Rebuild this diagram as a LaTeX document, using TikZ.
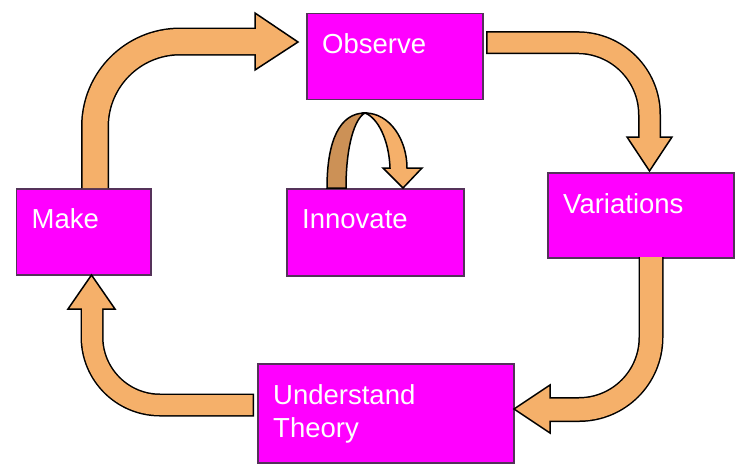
\documentclass[tikz,border=0pt]{standalone}
\usepackage{fontspec}
\setmainfont{Liberation Sans}
\usetikzlibrary{calc}
\definecolor{boxfill}{RGB}{255,0,255}
\definecolor{boxline}{RGB}{85,50,90}
\definecolor{arrowfill}{RGB}{245,176,106}
\definecolor{arrowdark}{RGB}{204,145,86}

\begin{document}
\begin{tikzpicture}[x=1pt, y=-1pt,
    stepbox/.style = {draw = boxline, line width = 1.8pt, fill = boxfill,
                      inner sep = 0pt, anchor = north west},
    steplabel/.style = {text = white, anchor = base west, inner sep = 0pt,
                        align = left, font = \fontsize{27.5}{33}\selectfont},
    shaftline/.style = {draw = black, line width = #1+3pt, rounded corners = 80pt},
    shaftfill/.style = {draw = arrowfill, line width = #1, rounded corners = 80pt},
    arrowhead/.style = {fill = arrowfill, draw = black, line width = 1.5pt, line join = miter},
    loopband/.style = {draw = black, line width = 1.5pt, fill = #1}]
          \useasboundingbox (0,0) rectangle (750,467);

          \node[stepbox, minimum width = 176pt, minimum height = 86pt] (observe) at (306,12.5) {};
          \node[stepbox, minimum width = 186pt, minimum height = 85pt] (variations) at (547,172) {};
          \node[stepbox, minimum width = 177pt, minimum height = 87pt] (innovate) at (286,188) {};
          \node[stepbox, minimum width = 134.5pt, minimum height = 86pt] (make) at (15.5,188) {};
          \node[stepbox, minimum width = 256pt, minimum height = 99pt] (theory) at (257,363) {};

          \node[steplabel] (observe-t) at ($(observe.north west)+(16,40.5)$) {Observe};
          \node[steplabel] (variations-t) at ($(variations.north west)+(16,41)$) {Variations};
          \node[steplabel] (innovate-t) at ($(innovate.north west)+(16,40.5)$) {Innovate};
          \node[steplabel] (make-t) at ($(make.north west)+(16,40.5)$) {Make};
          \node[steplabel] (theory-t) at ($(theory.north west)+(16,74)$) {Understand\\Theory};

          \coordinate (make-out) at (95,188);
          \coordinate (observe-in) at (255,41.5);
          \coordinate (observe-out) at (486,42.7);
          \coordinate (variations-in) at (649.5,137);
          \coordinate (variations-out) at (651,257);
          \coordinate (theory-in) at (550,409.5);
          \coordinate (theory-out) at (254,405);
          \coordinate (make-in) at (92,309);

          \draw[shaftline = 25pt, rounded corners = 85pt] (make-out) |- (observe-in);
          \filldraw[arrowhead] (255,13) -- (298,42) -- (255,70) -- cycle;
          \draw[shaftfill = 25pt, rounded corners = 85pt] (make-out) |- ($(observe-in)+(3,0)$);

          \draw[shaftline = 20pt, rounded corners = 72pt] (observe-out) -| (variations-in);
          \filldraw[arrowhead] (627,137) -- (649.5,171) -- (672,137) -- cycle;
          \draw[shaftfill = 20pt, rounded corners = 72pt] ($(observe-out)+(1.5,0)$) -| ($(variations-in)+(0,3)$);

          \draw[shaftline = 22pt, rounded corners = 72pt] (variations-out) |- (theory-in);
          \filldraw[arrowhead] (550,385) -- (514,409) -- (550,433) -- cycle;
          \draw[shaftfill = 22pt, rounded corners = 72pt] (variations-out) |- ($(theory-in)+(-3,0)$);

          \draw[shaftline = 20pt, rounded corners = 68pt] (theory-out) -| (make-in);
          \filldraw[arrowhead] (68,309) -- (91.5,275) -- (115,309) -- cycle;
          \draw[shaftfill = 20pt, rounded corners = 68pt] ($(theory-out)+(-1.5,0)$) -| ($(make-in)+(0,-3)$);

          \filldraw[loopband = arrowfill] (365,113) .. controls (390,113) and (407,140) .. (407,168)
               -- (422,168) -- (403,188) -- (383,168) -- (390,168)
               .. controls (389,140) and (378,118) .. (365,113) -- cycle;
          \filldraw[loopband = arrowdark] (327,188) .. controls (327,140) and (340,113) .. (365,113)
               .. controls (355,118) and (346,145) .. (346,188) -- cycle;
        \end{tikzpicture}
\end{document}
